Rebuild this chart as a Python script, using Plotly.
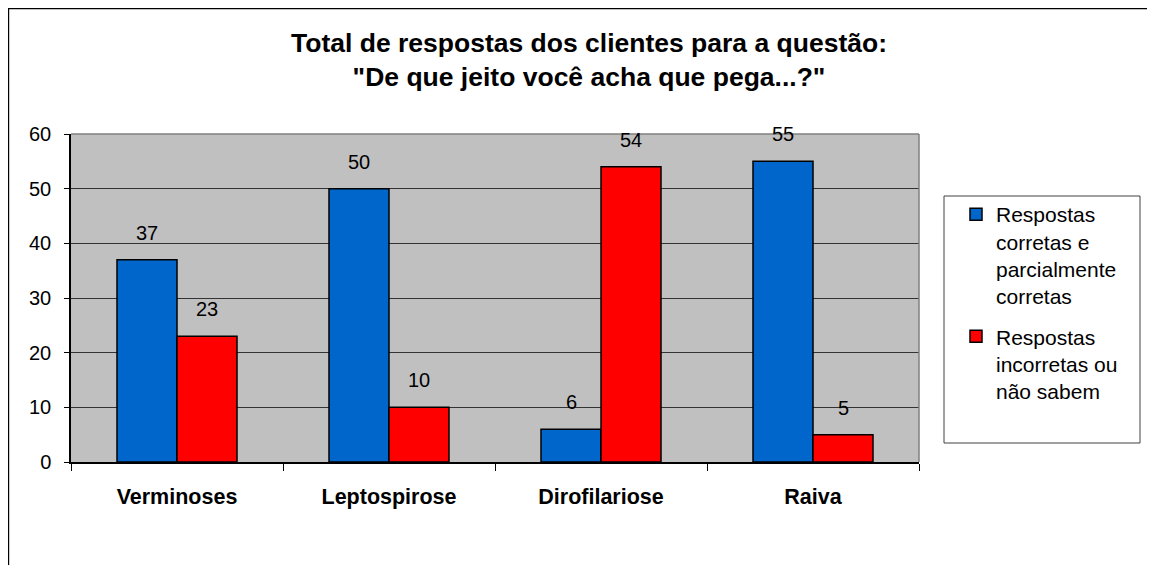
import plotly.graph_objects as go

categories = ["Verminoses", "Leptospirose", "Dirofilariose", "Raiva"]
corretas = [37, 50, 6, 55]
incorretas = [23, 10, 54, 5]
series_names = ["Respostas<br>corretas e<br>parcialmente<br>corretas",
                "Respostas<br>incorretas ou<br>não sabem"]
title_text = "Total de respostas dos clientes para a questão:<br>\"De que jeito você acha que pega...?\""

FONT = "Liberation Sans, Arial, sans-serif"
OFF = 8  # page body margin offset
W, H = 1155 - OFF, 565 - OFF
L, R, T, B = 71 - OFF, 919 - OFF, 134 - OFF, 462 - OFF
pw, ph = R - L, B - T

def px_x(x):
    return (x - OFF - L) / pw

def px_y(y):
    return (B - (y - OFF)) / ph

fig = go.Figure()
fig.add_trace(go.Bar(x=categories, y=corretas, name=series_names[0], legendgroup="a",
                     marker=dict(color="#0066CC", line=dict(color="black", width=1.5))))
fig.add_trace(go.Bar(x=categories, y=incorretas, name=series_names[1], legendgroup="b",
                     marker=dict(color="#FF0000", line=dict(color="black", width=1.5))))

annotations = []
for vals, shift in ((corretas, -30), (incorretas, 30)):
    for c, v in zip(categories, vals):
        annotations.append(dict(x=c, y=v, xref="x", yref="y", text=str(v), showarrow=False,
                                xshift=shift, yshift=27, yanchor="middle",
                                font=dict(family=FONT, size=20, color="black")))

shapes = [
    # outer chart border (right/bottom beyond view)
    dict(type="rect", xref="paper", yref="paper", x0=px_x(8.6), x1=px_x(1300), y0=px_y(700), y1=px_y(8.6),
         line=dict(color="black", width=1.2), fillcolor="rgba(0,0,0,0)", layer="below"),
    # plot top/right gray border
    dict(type="line", xref="paper", yref="paper", x0=0, x1=1, y0=1, y1=1,
         line=dict(color="#808080", width=1.5), layer="above"),
    dict(type="line", xref="paper", yref="paper", x0=1, x1=1, y0=0, y1=1,
         line=dict(color="#808080", width=1.5), layer="above"),
    # legend box
    dict(type="rect", xref="paper", yref="paper", x0=px_x(944), x1=px_x(1140), y0=px_y(443), y1=px_y(196),
         line=dict(color="#404040", width=1), fillcolor="white", layer="below"),
]

fig.update_layout(
    width=W, height=H,
    margin=dict(l=L, r=W - R, t=T, b=H - B, pad=0),
    paper_bgcolor="white", plot_bgcolor="#C0C0C0",
    barmode="group", bargap=0.434, bargroupgap=0,
    font=dict(family=FONT, color="black"),
    title=dict(text=title_text, x=(589 - OFF) / W, xanchor="center", xref="container",
               y=1 - (51.5 - OFF) / H, yanchor="middle", yref="container",
               font=dict(family=FONT, size=26.5, color="black", weight="bold")),
    legend=dict(x=px_x(956), xanchor="left", y=px_y(194), yanchor="top",
                bgcolor="rgba(0,0,0,0)", borderwidth=0, valign="top",
                traceorder="grouped", tracegroupgap=10,
                font=dict(family=FONT, size=21, color="black")),
    annotations=annotations,
    shapes=shapes,
    xaxis=dict(showline=True, linecolor="black", linewidth=1.5, ticks="outside", tickson="boundaries",
               ticklen=7, tickcolor="black", tickwidth=1, ticklabelstandoff=14,
               tickfont=dict(family=FONT, size=21.5, color="black", weight="bold"), showgrid=False),
    yaxis=dict(range=[0, 60], dtick=10, showline=True, linecolor="black", linewidth=1.5,
               ticks="outside", ticklen=5, tickcolor="black", ticklabelstandoff=9,
               tickfont=dict(family=FONT, size=20, color="black"),
               showgrid=True, gridcolor="#333333", gridwidth=1, zeroline=False),
)

fig.write_html("out.html")
